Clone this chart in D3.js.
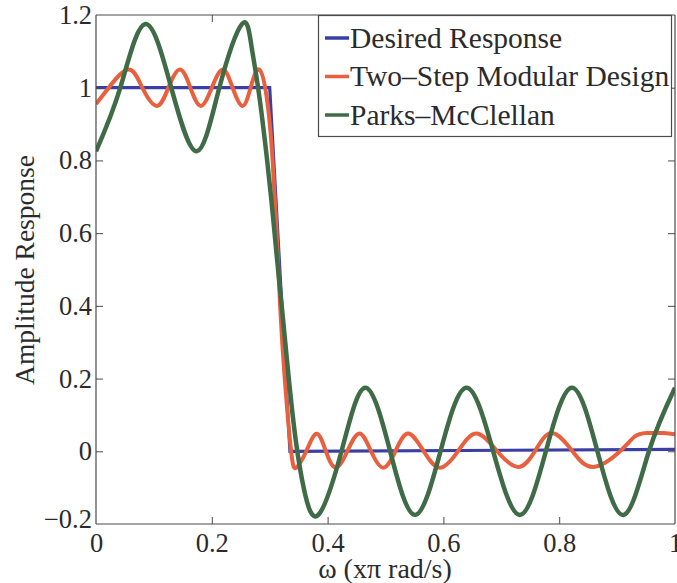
<!DOCTYPE html>
<html>
<head>
<meta charset="utf-8">
<script src="https://cdn.jsdelivr.net/npm/d3@7/dist/d3.min.js"></script>
<style>
  html, body { margin: 0; padding: 0; background: #fff; }
  svg { display: block; }
</style>
</head>
<body>
<svg id="chart" width="677" height="583"></svg>
<script>
// ---- data ----
const xTickValues = [0, 0.2, 0.4, 0.6, 0.8, 1];
const xTickLabels = ["0", "0.2", "0.4", "0.6", "0.8", "1"];
const yTickValues = [-0.2, 0, 0.2, 0.4, 0.6, 0.8, 1, 1.2];
const yTickLabels = ["\u22120.2", "0", "0.2", "0.4", "0.6", "0.8", "1", "1.2"];

const seriesNames = ["Desired Response", "Two\u2013Step Modular Design", "Parks\u2013McClellan"];

const desiredX = [0, 0.3, 0.335, 1];
const desiredY = [1, 1, 0, 0.005];

const twoStepX = [0, 0.022, 0.056, 0.08, 0.105, 0.125, 0.145, 0.163, 0.181, 0.2, 0.219, 0.236, 0.253, 0.267, 0.282,
  0.296, 0.305, 0.312, 0.318, 0.326, 0.337, 0.346, 0.363, 0.381, 0.397, 0.414, 0.434, 0.455, 0.475, 0.496, 0.517,
  0.539, 0.566, 0.594, 0.625, 0.657, 0.693, 0.729, 0.758, 0.787, 0.823, 0.859, 0.905, 0.93, 0.951, 0.98, 1.0];
const twoStepY = [0.955, 1.0, 1.05, 1.0, 0.95, 1.0, 1.05, 1.0, 0.95, 1.0, 1.05, 1.0, 0.95, 1.0, 1.05,
  0.96, 0.8, 0.6, 0.4, 0.2, 0.0, -0.045, 0.0, 0.048, 0.0, -0.045, 0.0, 0.049, 0.0, -0.045, 0.0,
  0.049, 0.0, -0.045, 0.0, 0.049, 0.0, -0.043, 0.0, 0.05, 0.0, -0.043, 0.0, 0.04, 0.05, 0.05, 0.047];

const parksX = [0, 0.042, 0.085, 0.13, 0.174, 0.213, 0.252, 0.268, 0.28, 0.292, 0.303, 0.312, 0.322, 0.333, 0.345, 0.36, 0.384,
  0.424, 0.465, 0.508, 0.551, 0.595, 0.640, 0.686, 0.732, 0.777, 0.822, 0.866, 0.911, 0.955, 1.0];
const parksY = [0.825, 1.0, 1.175, 1.0, 0.825, 1.0, 1.175, 1.12, 1.0, 0.85, 0.69, 0.54, 0.38, 0.2, 0.03, -0.11, -0.175,
  0.0, 0.175, 0.0, -0.175, 0.0, 0.175, 0.0, -0.175, 0.0, 0.175, 0.0, -0.175, 0.0, 0.175];

const seriesColors = ["#3a3fa6", "#e9603f", "#3f6c47"];

// ---- layout ----
const FONT = "'Liberation Serif', 'Times New Roman', serif";
const TXT = "#2b2b2b";
const svg = d3.select("#chart");
const L = 96, R = 675, T = 15, B = 524;
const x = d3.scaleLinear().domain([0, 1]).range([L, R]);
const y = d3.scaleLinear().domain([-0.2, 1.2]).range([B, T]);

svg.append("defs").append("clipPath").attr("id", "plotclip")
  .append("rect").attr("x", L).attr("y", T).attr("width", R - L).attr("height", B - T);

const plot = svg.append("g").attr("clip-path", "url(#plotclip)");

const zip = (xs, ys) => xs.map((v, i) => [v, ys[i]]);
const sharp = d3.line().x(d => x(d[0])).y(d => y(d[1]));
const smoothN = d3.line().x(d => x(d[0])).y(d => y(d[1])).curve(d3.curveNatural);

plot.append("path").attr("d", sharp(zip(desiredX, desiredY)))
  .attr("fill", "none").attr("stroke", seriesColors[0]).attr("stroke-width", 3.2);
plot.append("path").attr("d", smoothN(zip(twoStepX, twoStepY)))
  .attr("fill", "none").attr("stroke", seriesColors[1]).attr("stroke-width", 4).attr("stroke-linejoin", "round");
plot.append("path").attr("d", smoothN(zip(parksX, parksY)))
  .attr("fill", "none").attr("stroke", seriesColors[2]).attr("stroke-width", 4.5).attr("stroke-linejoin", "round");

// ---- axes (MATLAB-style box, inward ticks) ----
const tickLen = 7;
const axColor = "#4a4a4a";
const axB = svg.append("g").attr("transform", `translate(0,${B})`)
  .call(d3.axisBottom(x).tickValues(xTickValues).tickSize(-tickLen).tickPadding(9)
    .tickFormat((d, i) => xTickLabels[i]));
const axT = svg.append("g").attr("transform", `translate(0,${T})`)
  .call(d3.axisTop(x).tickValues(xTickValues).tickSize(-tickLen).tickFormat(""));
const axL = svg.append("g").attr("transform", `translate(${L},0)`)
  .call(d3.axisLeft(y).tickValues(yTickValues).tickSize(-tickLen).tickPadding(4)
    .tickFormat((d, i) => yTickLabels[i]));
const axR = svg.append("g").attr("transform", `translate(${R},0)`)
  .call(d3.axisRight(y).tickValues(yTickValues).tickSize(-tickLen).tickFormat(""));

[axB, axT, axL, axR].forEach(g => {
  g.select(".domain").attr("stroke", axColor).attr("stroke-width", 1.2);
  g.selectAll(".tick line").attr("stroke", axColor).attr("stroke-width", 1);
  g.selectAll("text").style("font-family", FONT).style("font-size", "26.5px").style("fill", TXT);
});
axB.selectAll(".tick").filter(d => d === 0 || d === 1).select("line").remove();
axT.selectAll(".tick").filter(d => d === 0 || d === 1).select("line").remove();
axL.selectAll(".tick").filter(d => d === -0.2 || d === 1.2).select("line").remove();
axR.selectAll(".tick").filter(d => d === -0.2 || d === 1.2).select("line").remove();
axB.selectAll(".domain").attr("d", `M${L},0H${R}`);
axT.selectAll(".domain").attr("d", `M${L},0H${R}`);
axL.selectAll(".domain").attr("d", `M0,${T}V${B}`);
axR.selectAll(".domain").attr("d", `M0,${T}V${B}`);
// the -0.2 label sits slightly above its tick in the reference
axL.selectAll(".tick").filter(d => d === -0.2).select("text").attr("dy", "0.15em");

// axis labels
svg.append("text").attr("x", 385).attr("y", 578).attr("text-anchor", "middle")
  .style("font-family", FONT).style("font-size", "28px").style("fill", TXT)
  .text("\u03c9 (x\u03c0 rad/s)");
svg.append("text").attr("transform", "translate(34,270) rotate(-90)").attr("text-anchor", "middle")
  .style("font-family", FONT).style("font-size", "27.5px").style("fill", TXT)
  .text("Amplitude Response");

// ---- legend ----
const lg = svg.append("g");
lg.append("rect").attr("x", 318.5).attr("y", 15.5).attr("width", 353).attr("height", 121)
  .attr("fill", "#fff").attr("stroke", axColor).attr("stroke-width", 1.2);
const legY = [38, 76.5, 115];
seriesNames.forEach((name, i) => {
  lg.append("line").attr("x1", 325).attr("x2", 349).attr("y1", legY[i]).attr("y2", legY[i])
    .attr("stroke", seriesColors[i]).attr("stroke-width", 3.5);
  lg.append("text").attr("x", 350).attr("y", legY[i]).attr("dy", "0.33em")
    .style("font-family", FONT).style("font-size", "29.5px").style("fill", TXT)
    .text(name);
});
</script>
</body>
</html>
